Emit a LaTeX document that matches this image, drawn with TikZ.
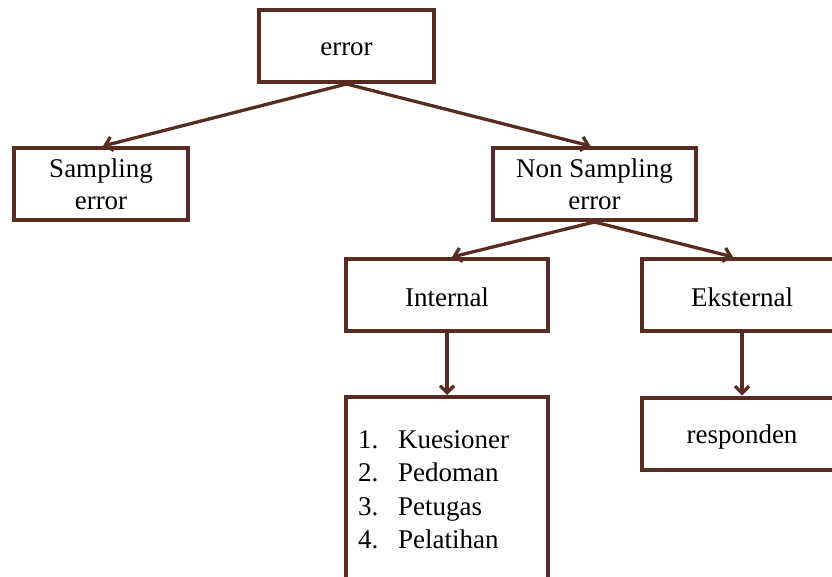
\documentclass[tikz,border=0pt]{standalone}
\usepackage{fontspec}
\setmainfont{Liberation Serif}
\usetikzlibrary{arrows.meta}
\definecolor{brn}{RGB}{88,44,32}
\newcommand{\lowr}[2]{\raisebox{-#1}[\height][\depth]{#2}}
\begin{document}
\begin{tikzpicture}[x=1pt,y=-1pt,
  box/.style={draw=brn, line width=4pt, fill=white, inner sep=0pt, align=center,
    font=\fontsize{27}{32}\selectfont},
  conn/.style={draw=brn, line width=3.3pt,
    -{Straight Barb[length=7pt,width=14pt,line width=3.3pt]}},
  items/.style={inner sep=0pt, align=left, font=\fontsize{27}{33.5}\selectfont}]
\clip (0,0) rectangle (832,577);
\node[box, minimum width=175pt, minimum height=72pt] (err) at (346.5,46) {\lowr{3pt}{error}};
\node[box, minimum width=174pt, minimum height=72pt] (samp) at (101,184) {Sampling\\error};
\node[box, minimum width=203pt, minimum height=72pt] (nons) at (594.5,184) {Non Sampling\\error};
\node[box, minimum width=202pt, minimum height=72pt] (int) at (447,295) {\lowr{2pt}{Internal}};
\node[box, minimum width=200pt, minimum height=72pt] (eks) at (742,295) {\lowr{2pt}{Eksternal}};
\node[box, minimum width=202pt, minimum height=246pt] (list) at (447,520) {};
\node[box, minimum width=200pt, minimum height=72pt] (resp) at (742,433.5) {\lowr{4pt}{responden}};
\node[items, anchor=north west] (itm) at (358,430)
  {\makebox[40pt][l]{1.}Kuesioner\\\makebox[40pt][l]{2.}Pedoman\\\makebox[40pt][l]{3.}Petugas\\\makebox[40pt][l]{4.}Pelatihan};
\draw[conn] (err.south) -- ([xshift=2pt]samp.north);
\draw[conn] (err.south) -- ([xshift=-4pt]nons.north);
\draw[conn] (nons.south) -- ([xshift=5pt]int.north);
\draw[conn] (nons.south) -- ([xshift=-9pt]eks.north);
\draw[conn] (int.south) -- (list.north);
\draw[conn] (eks.south) -- (resp.north);
\end{tikzpicture}
\end{document}
